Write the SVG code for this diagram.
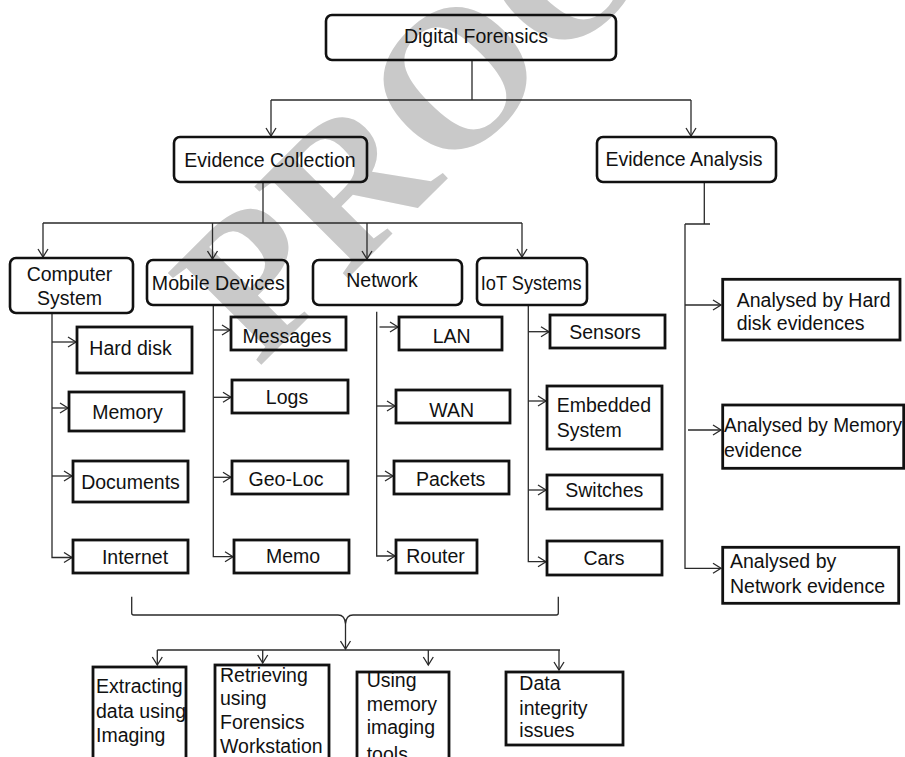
<svg xmlns="http://www.w3.org/2000/svg" width="905" height="757" viewBox="0 0 905 757">
  <style>
    .rb { fill: none; stroke: #111; stroke-width: 2.6; }
    .sb { fill: none; stroke: #111; stroke-width: 2.8; }
    .ln { fill: none; stroke: #2a2a2a; stroke-width: 1.3; }
    .ar { fill: none; stroke: #2a2a2a; stroke-width: 1.3; marker-end: url(#open); }
    text { font-family: "Liberation Sans", Arial, sans-serif; font-size: 19.5px; fill: #111; }
    .c { text-anchor: middle; }
    .wm { font-family: "Liberation Serif", "Times New Roman", serif; font-weight: bold; font-size: 200px; fill: #c9c9c9; }
  </style>
  <defs>
    <marker id="open" markerUnits="userSpaceOnUse" markerWidth="12" markerHeight="12" viewBox="-10 -6 12 12" refX="0" refY="0" orient="auto">
      <path d="M-8,-5 L0,0 L-8,5" fill="none" stroke="#2a2a2a" stroke-width="1.3"/>
    </marker>
  </defs>

  <rect width="905" height="757" fill="#fff"/>

  <!-- watermark -->
  <text class="wm" x="258" y="368" transform="rotate(-45 258 368)">PROOF</text>

  <!-- connectors -->
  <g id="connectors">
    <path class="ln" d="M472,60 V100 M271,100 H691"/>
    <path class="ar" d="M271,100 V136"/>
    <path class="ar" d="M691,100 V136"/>

    <path class="ln" d="M263,182 V223 M43,223 H522"/>
    <path class="ar" d="M43,223 V257"/>
    <path class="ar" d="M212.5,223 V259"/>
    <path class="ar" d="M367,223 V259"/>
    <path class="ar" d="M522,223 V257"/>

    <!-- computer system branch -->
    <path class="ar" d="M52,313 V557.5 H72"/>
    <path class="ar" d="M52,342 H76"/>
    <path class="ar" d="M52,408 H68"/>
    <path class="ar" d="M52,476 H72"/>

    <!-- mobile devices branch -->
    <path class="ar" d="M213.3,305 V556.7 H233"/>
    <path class="ar" d="M213.3,330 H230"/>
    <path class="ar" d="M213.3,397.3 H231"/>
    <path class="ar" d="M213.3,477.3 H231"/>

    <!-- network branch -->
    <path class="ar" d="M376.7,311.7 V556 H395"/>
    <path class="ar" d="M379.5,327 H398"/>
    <path class="ar" d="M376.7,406 H395"/>
    <path class="ar" d="M376.7,476 H393"/>

    <!-- IoT branch -->
    <path class="ar" d="M528.3,305 V561.7 H546"/>
    <path class="ar" d="M528.3,331.7 H549"/>
    <path class="ar" d="M528.3,401 H546"/>
    <path class="ar" d="M528.3,490 H546"/>

    <!-- evidence analysis branch -->
    <path class="ln" d="M704.3,182 V224 M685,224 H710"/>
    <path class="ar" d="M685,224 V568.3 H721"/>
    <path class="ar" d="M685,305 H721"/>
    <path class="ar" d="M688,430 H721"/>

    <!-- brace gathering the collection branches -->
    <path class="ln" d="M131.7,596.7 V613 Q131.7,615 133.7,615 H338 Q345,615 345.5,624 Q346,615 353,615 H556.3 Q558.3,615 558.3,613 V596.7"/>
    <path class="ar" d="M345.5,624 V649"/>
    <path class="ln" d="M157.3,650 H560"/>
    <path class="ar" d="M157.3,650 V665"/>
    <path class="ar" d="M262.7,650 V663"/>
    <path class="ar" d="M428.3,650 V665"/>
    <path class="ar" d="M559,650 V670"/>
  </g>

  <!-- top levels -->
  <g id="digital-forensics">
    <rect class="rb" x="326" y="15" width="290" height="45" rx="6"/>
    <text class="c" x="476" y="43">Digital Forensics</text>
  </g>
  <g id="evidence-collection">
    <rect class="rb" x="174" y="137" width="193" height="45" rx="6"/>
    <text class="c" x="270" y="166.5">Evidence Collection</text>
  </g>
  <g id="evidence-analysis">
    <rect class="rb" x="597" y="137" width="179" height="45" rx="6"/>
    <text class="c" x="684" y="166">Evidence Analysis</text>
  </g>

  <!-- categories -->
  <g id="computer-system">
    <rect class="rb" x="10" y="258" width="123" height="55" rx="6"/>
    <text class="c" x="69.5" y="281">Computer</text>
    <text class="c" x="69.5" y="305">System</text>
  </g>
  <g id="mobile-devices">
    <rect class="rb" x="147" y="260" width="141" height="45" rx="6"/>
    <text class="c" x="218.3" y="290" textLength="133" lengthAdjust="spacingAndGlyphs">Mobile Devices</text>
  </g>
  <g id="network">
    <rect class="rb" x="313" y="260" width="149" height="45" rx="6"/>
    <text class="c" x="382" y="287">Network</text>
  </g>
  <g id="iot-systems">
    <rect class="rb" x="477" y="258" width="110" height="47" rx="6"/>
    <text class="c" x="531.2" y="290" textLength="101" lengthAdjust="spacingAndGlyphs">IoT Systems</text>
  </g>

  <!-- computer system items -->
  <g id="hard-disk">
    <rect class="sb" x="77" y="327" width="115" height="46"/>
    <text class="c" x="130.5" y="355">Hard disk</text>
  </g>
  <g id="memory">
    <rect class="sb" x="69" y="392" width="115" height="39"/>
    <text class="c" x="127.5" y="418.5">Memory</text>
  </g>
  <g id="documents">
    <rect class="sb" x="73" y="461" width="115" height="41"/>
    <text class="c" x="130.5" y="488.5">Documents</text>
  </g>
  <g id="internet">
    <rect class="sb" x="73" y="540" width="115" height="33"/>
    <text class="c" x="135" y="563.5">Internet</text>
  </g>

  <!-- mobile device items -->
  <g id="messages">
    <rect class="sb" x="231" y="317" width="115" height="33"/>
    <text class="c" x="287" y="343">Messages</text>
  </g>
  <g id="logs">
    <rect class="sb" x="232" y="380" width="116" height="33"/>
    <text class="c" x="287" y="403.5">Logs</text>
  </g>
  <g id="geo-loc">
    <rect class="sb" x="232" y="461" width="116" height="33"/>
    <text class="c" x="286" y="486">Geo-Loc</text>
  </g>
  <g id="memo">
    <rect class="sb" x="234" y="540" width="115" height="33"/>
    <text class="c" x="293" y="563">Memo</text>
  </g>

  <!-- network items -->
  <g id="lan">
    <rect class="sb" x="399" y="317" width="103" height="33"/>
    <text class="c" x="451.7" y="343.3">LAN</text>
  </g>
  <g id="wan">
    <rect class="sb" x="396" y="390" width="114" height="33"/>
    <text class="c" x="451.7" y="417.3">WAN</text>
  </g>
  <g id="packets">
    <rect class="sb" x="394" y="461" width="115" height="33"/>
    <text class="c" x="450.7" y="485.7">Packets</text>
  </g>
  <g id="router">
    <rect class="sb" x="396" y="540" width="81" height="33"/>
    <text class="c" x="435.5" y="563">Router</text>
  </g>

  <!-- IoT items -->
  <g id="sensors">
    <rect class="sb" x="550" y="315" width="115" height="33"/>
    <text class="c" x="605" y="338.5">Sensors</text>
  </g>
  <g id="embedded-system">
    <rect class="sb" x="547" y="386" width="115" height="63"/>
    <text x="556.7" y="411.7">Embedded</text>
    <text x="556.7" y="436.7">System</text>
  </g>
  <g id="switches">
    <rect class="sb" x="547" y="475" width="115" height="34"/>
    <text class="c" x="604.3" y="496.7">Switches</text>
  </g>
  <g id="cars">
    <rect class="sb" x="547" y="541" width="115" height="34"/>
    <text class="c" x="604" y="565">Cars</text>
  </g>

  <!-- analysis items -->
  <g id="analysed-hard-disk">
    <rect class="sb" x="722.7" y="279.3" width="177.3" height="60.7"/>
    <text x="736.7" y="306.7">Analysed by Hard</text>
    <text x="736.7" y="330">disk evidences</text>
  </g>
  <g id="analysed-memory">
    <rect class="sb" x="722.7" y="405" width="181" height="63.3"/>
    <text x="724" y="431.7" textLength="178" lengthAdjust="spacingAndGlyphs">Analysed by Memory</text>
    <text x="724" y="456.7">evidence</text>
  </g>
  <g id="analysed-network">
    <rect class="sb" x="722.7" y="547.3" width="176" height="56"/>
    <text x="730" y="568.3">Analysed by</text>
    <text x="730" y="593.3">Network evidence</text>
  </g>

  <!-- outcomes -->
  <g id="extracting">
    <rect class="sb" x="93" y="667" width="93" height="100"/>
    <text x="96" y="693.3">Extracting</text>
    <text x="96" y="718.3">data using</text>
    <text x="96" y="741.5">Imaging</text>
  </g>
  <g id="retrieving">
    <rect class="sb" x="215" y="665" width="114" height="100"/>
    <text x="220" y="681.7">Retrieving</text>
    <text x="220" y="705">using</text>
    <text x="220" y="729">Forensics</text>
    <text x="220" y="753.3">Workstation</text>
  </g>
  <g id="memory-imaging">
    <rect class="sb" x="357" y="672" width="92" height="100"/>
    <text x="366.7" y="687">Using</text>
    <text x="366.7" y="710.5">memory</text>
    <text x="366.7" y="734">imaging</text>
    <text x="366.7" y="761">tools</text>
  </g>
  <g id="data-integrity">
    <rect class="sb" x="506" y="672" width="117" height="73"/>
    <text x="519.3" y="690">Data</text>
    <text x="519.3" y="715">integrity</text>
    <text x="519.3" y="737">issues</text>
  </g>
</svg>
